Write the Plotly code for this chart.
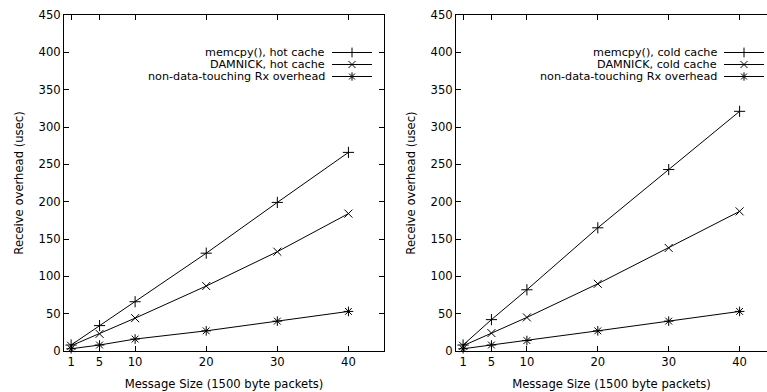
import plotly.graph_objects as go

# ---- data ----
msg_sizes = [1, 5, 10, 20, 30, 40]

hot_memcpy = [8, 34, 66, 131, 199, 266]
hot_damnick = [7, 23, 44, 87, 133, 184]
hot_nondata = [3, 8, 16, 27, 40, 53]

cold_memcpy = [8, 42, 82, 165, 243, 321]
cold_damnick = [7, 24, 45, 90, 138, 187]
cold_nondata = [3, 8, 14, 27, 40, 53]

left_names = ["memcpy(), hot cache", "DAMNICK, hot cache", "non-data-touching Rx overhead"]
right_names = ["memcpy(), cold cache", "DAMNICK, cold cache", "non-data-touching Rx overhead"]

x_ticks = [1, 5, 10, 20, 30, 40]
y_ticks = [0, 50, 100, 150, 200, 250, 300, 350, 400, 450]

x_title = "Message Size (1500 byte packets)"
y_title = "Receive overhead (usec)"

symbols = ["cross-thin", "x-thin", "asterisk-open"]

W, H = 767, 392
FONT = dict(family="DejaVu Sans", size=11.6, color="black")
LFONT = dict(family="DejaVu Sans", size=11.2, color="black")

fig = go.Figure()

left_series = [hot_memcpy, hot_damnick, hot_nondata]
right_series = [cold_memcpy, cold_damnick, cold_nondata]

for vals, name, sym in zip(left_series, left_names, symbols):
    fig.add_trace(go.Scatter(
        x=msg_sizes, y=vals, name=name, mode="lines+markers",
        line=dict(color="black", width=1),
        marker=dict(symbol=sym, size=8, color="black", line=dict(color="black", width=1)),
        xaxis="x", yaxis="y", showlegend=False, cliponaxis=False))

for vals, name, sym in zip(right_series, right_names, symbols):
    fig.add_trace(go.Scatter(
        x=msg_sizes, y=vals, name=name, mode="lines+markers",
        line=dict(color="black", width=1),
        marker=dict(symbol=sym, size=8, color="black", line=dict(color="black", width=1)),
        xaxis="x2", yaxis="y2", showlegend=False, cliponaxis=False))

# ---- custom gnuplot-style legends (text right, key sample on the right) ----
row_y_px = [52.5, 64.5, 76.5]
legends = [
    dict(names=left_names, text_r=326, line_l=332, line_r=372, mark=352),
    dict(names=right_names, text_r=718, line_l=724, line_r=764, mark=744),
]
key_x, key_y, key_sym = [], [], []
shapes = []
annotations = []
for lg in legends:
    for i, nm in enumerate(lg["names"]):
        yp = 1 - row_y_px[i] / H
        annotations.append(dict(
            x=lg["text_r"] / W, y=yp, xref="paper", yref="paper",
            text=nm, showarrow=False, xanchor="right", yanchor="middle",
            font=LFONT, borderpad=0))
        shapes.append(dict(
            type="line", xref="paper", yref="paper",
            x0=lg["line_l"] / W, x1=lg["line_r"] / W, y0=yp, y1=yp,
            line=dict(color="black", width=1)))
        key_x.append(lg["mark"] / W)
        key_y.append(yp)
        key_sym.append(symbols[i])

fig.add_trace(go.Scatter(
    x=key_x, y=key_y, mode="markers", xaxis="x3", yaxis="y3",
    marker=dict(symbol=key_sym, size=7, color="black", line=dict(color="black", width=1)),
    showlegend=False, hoverinfo="skip"))

y_dom = [41 / H, 1 - 15 / H]

axis_common = dict(
    showgrid=False, zeroline=False, showline=True, linecolor="black", linewidth=1,
    ticks="inside", ticklen=5, tickcolor="black", tickwidth=1,
    tickfont=FONT, automargin=False)

fig.update_layout(
    width=W, height=H,
    margin=dict(l=0, r=0, t=0, b=0, autoexpand=False),
    paper_bgcolor="white", plot_bgcolor="rgba(0,0,0,0)",
    font=FONT,
    xaxis=dict(axis_common, domain=[64 / W, 384 / W], range=[0, 45],
               tickvals=x_ticks, mirror="ticks", anchor="y",
               title=dict(text=x_title, font=FONT, standoff=11)),
    yaxis=dict(axis_common, domain=y_dom, range=[0, 450],
               tickvals=y_ticks, mirror="ticks", anchor="x",
               title=dict(text=y_title, font=FONT, standoff=12)),
    xaxis2=dict(axis_common, domain=[456 / W, 1.0], range=[0, 311 / 7.09],
                tickvals=x_ticks, mirror="ticks", anchor="y2",
                title=dict(text=x_title, font=FONT, standoff=11)),
    yaxis2=dict(axis_common, domain=y_dom, range=[0, 450],
                tickvals=y_ticks, mirror=False, anchor="x2",
                title=dict(text=y_title, font=FONT, standoff=12)),
    xaxis3=dict(domain=[0, 1], range=[0, 1], visible=False, anchor="y3", automargin=False),
    yaxis3=dict(domain=[0, 1], range=[0, 1], visible=False, anchor="x3", automargin=False),
    shapes=shapes,
    annotations=annotations,
)

fig.write_html(
    "out.html",
    config={"displayModeBar": False, "staticPlot": True},
    post_script="document.body.style.margin='0';document.body.style.padding='0';"
                "document.body.style.overflow='hidden';",
)
